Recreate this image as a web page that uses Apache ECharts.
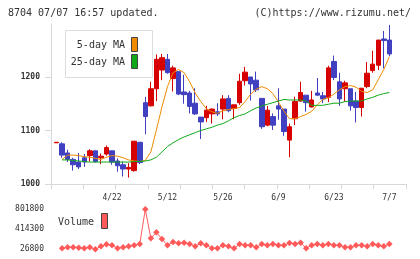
<!DOCTYPE html>
<html><head><meta charset="utf-8">
<script src="https://cdn.jsdelivr.net/npm/echarts@6/dist/echarts.min.js"></script>
<style>html,body{margin:0;padding:0;background:#fff}#c{width:420px;height:259px}</style>
</head><body><div id="c"></div>
<script>
const dates = ['4/8','4/9','4/10','4/11','4/14','4/15','4/16','4/17','4/18','4/21',
  '4/22','4/24','4/25','4/28','4/30','5/1','5/2','5/7','5/8','5/9',
  '5/12','5/13','5/14','5/15','5/16','5/19','5/20','5/21','5/22','5/23',
  '5/26','5/27','5/28','5/29','5/30','6/2','6/3','6/4','6/5','6/6',
  '6/9','6/10','6/11','6/12','6/13','6/16','6/17','6/18','6/19','6/20',
  '6/23','6/24','6/25','6/26','6/27','6/30','7/1','7/2','7/3','7/4','7/7'];
const tickLabels = ['4/22','5/12','5/26','6/9','6/23','7/7'];
const open  = [1077,1075,1058,1046,1041,1049,1053,1062,1049,1056,1062,1043,1036,1028,1025,1078,1152,1146,1178,1213,1233,1197,1210,1172,1170,1151,1125,1124,1131,1135,1140,1160,1141,1152,1193,1200,1194,1160,1110,1126,1146,1140,1082,1122,1155,1166,1144,1170,1165,1162,1229,1191,1178,1178,1155,1143,1182,1212,1222,1271,1269];
const close = [1078,1054,1046,1036,1032,1041,1062,1042,1052,1068,1041,1034,1028,1031,1080,1040,1126,1178,1233,1236,1208,1217,1168,1167,1145,1131,1116,1138,1140,1131,1159,1137,1148,1192,1209,1187,1176,1107,1138,1110,1140,1098,1107,1154,1171,1152,1157,1166,1159,1217,1199,1159,1189,1146,1143,1179,1207,1224,1269,1268,1243];
const low   = [1077,1049,1041,1025,1028,1032,1042,1040,1037,1053,1036,1023,1014,1012,1023,1037,1093,1145,1155,1194,1206,1173,1166,1150,1132,1129,1084,1116,1113,1127,1121,1134,1121,1148,1184,1156,1172,1103,1108,1101,1120,1090,1050,1110,1154,1135,1143,1165,1151,1153,1194,1146,1154,1137,1115,1126,1179,1208,1213,1216,1239];
const high  = [1078,1078,1064,1049,1058,1056,1065,1062,1057,1072,1062,1048,1042,1039,1080,1078,1163,1191,1242,1243,1243,1221,1211,1204,1174,1179,1125,1146,1141,1151,1166,1166,1148,1206,1219,1200,1210,1160,1146,1132,1179,1140,1113,1163,1191,1166,1174,1198,1172,1221,1240,1208,1193,1178,1172,1179,1228,1249,1269,1286,1297];
const ma5  = [null,1046,1054,1054,1053,1051,1050,1048,1046,1050,1053,1052,1049,1045,1043,1042,1044,1060,1101,1144,1182,1208,1214,1208,1191,1170,1154,1141,1135,1132,1137,1139,1141,1143,1154,1168,1177,1182,1178,1169,1153,1136,1122,1122,1126,1130,1136,1148,1158,1161,1168,1176,1182,1184,1181,1173,1171,1176,1195,1214,1238];
const ma25 = [null,1045,1045,1044,1043,1042,1041,1041,1041,1041,1041,1041,1041,1041,1042,1042,1043,1045,1050,1060,1070,1077,1083,1088,1092,1096,1100,1103,1106,1110,1113,1118,1124,1128,1131,1137,1142,1146,1149,1152,1155,1158,1157,1157,1157,1155,1147,1147,1147,1149,1151,1151,1154,1155,1155,1155,1159,1162,1166,1169,1171];
const volume = [null,46200,65500,65500,59100,46200,65500,26800,84900,123700,104300,46200,65500,84900,104300,130100,801800,239900,356100,227000,104300,168900,143000,155900,130100,84900,143000,104300,46200,46200,104300,84900,46200,130100,104300,104300,65500,130100,104300,130100,104300,104300,149500,130100,155900,46200,104300,130100,104300,130100,104300,104300,65500,65500,104300,104300,84900,130100,104300,84900,130100];
const priceTicks = [1000,1100,1200];
const volumeTicks = [26800,414300,801800];

const mono = "'DejaVu Sans Mono', 'Liberation Mono', monospace";
const cats = [''].concat(dates, [' ', '  ', '   ']);
const pad = arr => ['-'].concat(arr.map(v => v == null ? '-' : v), ['-', '-', '-']);
const empty = ['-','-','-','-'];
const candles = [empty].concat(dates.map((d, i) => [open[i], close[i], low[i], high[i]]), [empty, empty, empty]);

const RED = '#d70000', BLUE = '#4040c0', ORANGE = '#f08a00', GREEN = '#10a818', VOL = '#ff5a5a';
const chart = echarts.init(document.getElementById('c'), null, {renderer: 'canvas', devicePixelRatio: 1});
chart.setOption({
  animation: false,
  backgroundColor: '#fff',
  grid: [
    {left: 51, right: 14, top: 24, height: 160},
    {left: 51, right: 14, top: 209.3, height: 40}
  ],
  xAxis: [
    {type: 'category', gridIndex: 0, data: cats, boundaryGap: false,
     axisLine: {show: false}, axisTick: {show: false}, splitLine: {show: false},
     axisLabel: {interval: (i, v) => tickLabels.includes(v), fontSize: 8, color: '#333', fontFamily: mono, margin: 10}},
    {type: 'value', gridIndex: 0, min: 0, max: 11, interval: 1, position: 'bottom',
     axisLine: {show: true, lineStyle: {color: '#d8d8d8', width: 1}},
     axisTick: {show: true, length: 5, lineStyle: {color: '#d8d8d8'}},
     axisLabel: {show: false}, splitLine: {show: false}},
    {type: 'category', gridIndex: 1, data: cats, boundaryGap: false, show: false}
  ],
  yAxis: [
    {type: 'value', gridIndex: 0, min: 1000, max: 1299,
     axisLine: {show: true, lineStyle: {color: '#d8d8d8'}},
     axisTick: {show: true, length: 6, customValues: priceTicks, lineStyle: {color: '#d8d8d8'}},
     axisLabel: {customValues: priceTicks, formatter: v => String(v), fontSize: 8, fontWeight: 'bold', color: '#333', margin: 11, fontFamily: mono},
     splitLine: {show: false}},
    {type: 'value', gridIndex: 1, min: 26800, max: 801800,
     axisLine: {show: false}, axisTick: {show: false}, splitLine: {show: false},
     axisLabel: {customValues: volumeTicks, formatter: v => String(v), fontSize: 8, color: '#333', margin: 7, fontFamily: mono}}
  ],
  series: [
    {type: 'candlestick', xAxisIndex: 0, yAxisIndex: 0, barWidth: 5, data: candles,
     itemStyle: {color: RED, color0: BLUE, borderColor: RED, borderColor0: BLUE, borderWidth: 1}},
    {type: 'line', xAxisIndex: 0, yAxisIndex: 0, data: pad(ma5), symbol: 'none',
     lineStyle: {color: ORANGE, width: 1}, itemStyle: {color: ORANGE}},
    {type: 'line', xAxisIndex: 0, yAxisIndex: 0, data: pad(ma25), symbol: 'none',
     lineStyle: {color: GREEN, width: 1}, itemStyle: {color: GREEN}},
    {type: 'line', xAxisIndex: 2, yAxisIndex: 1, data: pad(volume), symbol: 'diamond', symbolSize: 6.5,
     showAllSymbol: true, lineStyle: {color: VOL, width: 1}, itemStyle: {color: VOL}}
  ],
  graphic: [
    {type: 'text', x: 8, y: 13, style: {text: '8704 07/07 16:57 updated.', font: '10px ' + mono, fill: '#333', verticalAlign: 'middle', align: 'left'}},
    {type: 'text', x: 411, y: 13, style: {text: '(C)https://www.rizumu.net/', font: '10px ' + mono, fill: '#333', verticalAlign: 'middle', align: 'right'}},
    {type: 'rect', shape: {x: 65.5, y: 30.5, width: 87, height: 47}, style: {fill: '#fff', stroke: '#dcdcdc', lineWidth: 1}, z: 100},
    {type: 'text', x: 125, y: 45, style: {text: '5-day MA', font: '10px ' + mono, fill: '#333', verticalAlign: 'middle', align: 'right'}, z: 101},
    {type: 'text', x: 125, y: 62, style: {text: '25-day MA', font: '10px ' + mono, fill: '#333', verticalAlign: 'middle', align: 'right'}, z: 101},
    {type: 'rect', shape: {x: 131.5, y: 37.5, width: 6, height: 14}, style: {fill: ORANGE, stroke: '#444', lineWidth: 1}, z: 101},
    {type: 'rect', shape: {x: 131.5, y: 54.5, width: 6, height: 14}, style: {fill: GREEN, stroke: '#444', lineWidth: 1}, z: 101},
    {type: 'text', x: 58, y: 222, style: {text: 'Volume', font: '10px ' + mono, fill: '#333', verticalAlign: 'middle', align: 'left'}, z: 101},
    {type: 'rect', shape: {x: 101.5, y: 213.5, width: 6, height: 15}, style: {fill: VOL, stroke: '#444', lineWidth: 1}, z: 101}
  ]
});
</script>
</body></html>
